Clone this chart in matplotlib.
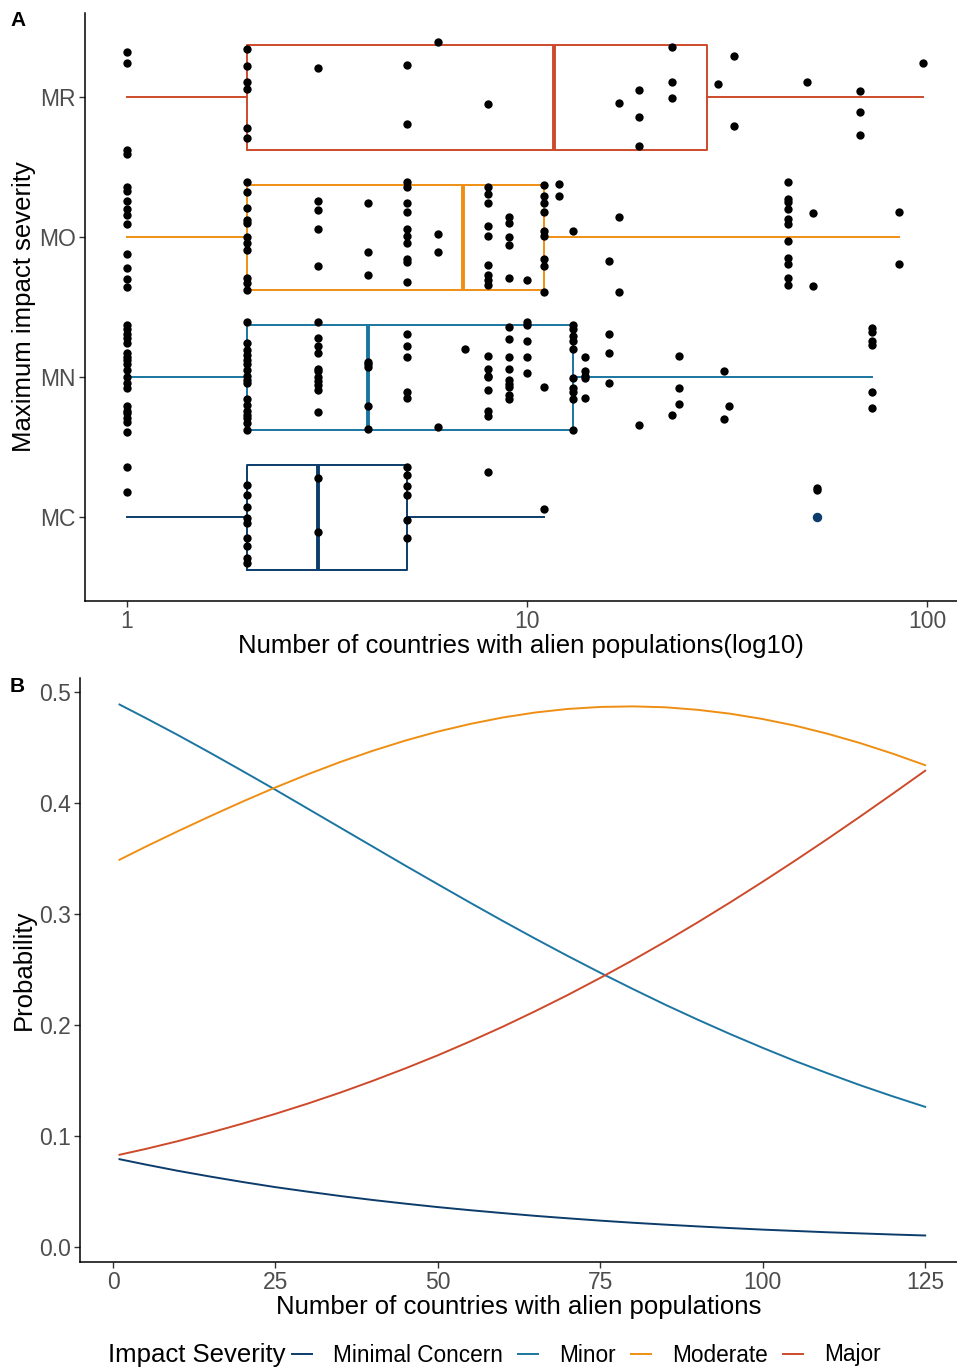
import numpy as np
import matplotlib
matplotlib.use("Agg")
import matplotlib.pyplot as plt
from matplotlib.lines import Line2D

plt.rcParams['font.family'] = ['Liberation Sans', 'DejaVu Sans']

# ---- Panel A data ----
severity = ['MC', 'MN', 'MO', 'MR']
box_colors = ['#0B3C6B', '#1B75A0', '#EE8F14', '#CD4A2B']

# box summary (countries)
whis_lo = [1, 1, 1, 1]
q1 = [2, 2, 2, 2]
median = [3, 4, 6.9, 11.7]
q3 = [5, 13, 11, 28.2]
whis_hi = [11, 73, 85, 98]
outliers = [[53], [], [], []]

# jittered points: country counts and vertical jitter (category units)
mc_x = [1, 1, 2, 2, 2, 2, 2, 2, 2, 2, 2, 3, 3, 5, 5, 5, 5, 5, 5, 8, 11, 53, 53]
mc_dy = [.36, .18, .23, .16, .07, -.01, -.04, -.15, -.21, -.29, -.33, .28, -.11,
         .36, .30, .22, .16, -.02, -.15, .32, .06, .21, .19]

mn_x = ([1] * 19 + [2] * 17 + [3] * 11 + [4] * 5 + [5] * 5 + [6, 7] + [8] * 7 + [9] * 9
        + [10] * 5 + [11] + [13] * 10 + [14] * 5 + [16] * 3 + [19, 23] + [24] * 3
        + [31, 31, 32] + [73] * 6)
mn_dy = [.37, .34, .31, .28, .24, .17, .14, .12, .09, .05, 0, -.04, -.08, -.21, -.24, -.26, -.29, -.32, -.39,
         .39, .24, .19, .16, .12, .09, .05, .01, -.02, -.04, -.16, -.20, -.24, -.27, -.29, -.33, -.38,
         .39, .28, .22, .17, .06, .04, 0, -.03, -.06, -.09, -.25,
         .11, .09, .07, -.21, -.37,
         .31, .22, .14, -.11, -.15,
         -.36, .20,
         .15, .06, .01, 0, -.09, -.24, -.28,
         .36, .27, .14, .06, -.02, -.05, -.07, -.13, -.16,
         .39, .37, .26, .14, .03,
         -.07,
         .37, .34, .29, .26, .20, -.01, -.08, -.11, -.16, -.38,
         .14, .04, .01, -.01, -.15,
         .31, .17, -.04,
         -.34, -.27,
         .15, -.08, -.19,
         .04, -.30, -.21,
         .35, .32, .26, .23, -.11, -.22]

mo_x = ([1] * 10 + [2] * 11 + [3] * 4 + [4] * 3 + [5] * 10 + [6] * 2 + [8] * 9 + [9] * 5
        + [10] + [11] * 9 + [12, 12, 13, 16, 17, 17] + [45] * 11 + [52, 52, 85, 85])
mo_dy = [.36, .33, .26, .20, .16, .09, -.12, -.22, -.30, -.36,
         .39, .32, .21, .12, .10, 0, -.04, -.09, -.29, -.33, -.38,
         .26, .19, .06, -.21,
         .24, -.11, -.27,
         .39, .36, .24, .18, .06, .01, -.04, -.16, -.18, -.32,
         .02, -.11,
         .36, .31, .24, .08, .01, -.20, -.27, -.31, -.34,
         .14, .10, 0, -.06, -.29,
         -.31,
         .37, .29, .24, .18, .04, .01, -.16, -.21, -.39,
         .38, .29, .04, -.17, .14, -.39,
         .39, .27, .25, .20, .13, .09, -.03, -.15, -.19, -.29, -.34,
         .17, -.35, .18, -.19]

mr_x = ([1] * 4 + [2] * 6 + [3, 5, 5, 6, 8, 17] + [19] * 3 + [23] * 3 + [30, 33, 33, 50]
        + [68] * 3 + [98])
mr_dy = [.32, .24, -.38, -.41,
         .34, .22, .11, .06, -.22, -.29,
         .21, .23, -.19, .39, -.05, -.04,
         .05, -.14, -.35,
         .36, .11, -.01,
         .09, .29, -.21, .11,
         .04, -.11, -.27, .24]

points_x = [mc_x, mn_x, mo_x, mr_x]
points_dy = [mc_dy, mn_dy, mo_dy, mr_dy]

# ---- Panel B data (predicted probabilities) ----
countries = [1, 5, 10, 15, 20, 25, 30, 35, 40, 45, 50, 55, 60, 65, 70, 75, 80, 85, 90,
             95, 100, 105, 110, 115, 120, 125]
p_minimal = [.079, .0742, .0685, .0633, .0584, .0538, .0497, .0458, .0422, .0389, .0358, .0330,
             .0304, .0279, .0257, .0236, .0217, .0200, .0184, .0169, .0155, .0143, .0131, .0121,
             .0111, .0102]
p_minor = [.489, .4769, .4614, .4453, .4288, .4121, .3950, .3779, .3608, .3437, .3269, .3102,
           .2938, .2778, .2622, .2471, .2325, .2183, .2048, .1918, .1794, .1675, .1564, .1457,
           .1357, .1262]
p_moderate = [.349, .3607, .3748, .3884, .4016, .4142, .4261, .4372, .4473, .4565, .4646, .4715,
              .4773, .4818, .4850, .4868, .4873, .4865, .4842, .4807, .4759, .4699, .4626, .4542,
              .4447, .4343]
p_major = [.083, .0882, .0953, .1030, .1112, .1199, .1292, .1391, .1497, .1609, .1727, .1853,
           .1985, .2125, .2271, .2425, .2585, .2752, .2926, .3106, .3292, .3483, .3679, .3880,
           .4085, .4293]
legend_labels = ['Minimal Concern', 'Minor', 'Moderate', 'Major']

W, H = 957, 1369
fig = plt.figure(figsize=(W / 100, H / 100), dpi=100)

tick_grey = '#4D4D4D'

# ---------------- Panel A ----------------
axA = fig.add_axes([85 / W, 1 - 601 / H, (957 - 85) / W, (601 - 13) / H])
for i in range(4):
    c = box_colors[i]
    st = dict(med=median[i], q1=q1[i], q3=q3[i], whislo=whis_lo[i],
              whishi=whis_hi[i], fliers=outliers[i])
    axA.bxp([st], positions=[i], widths=0.75, vert=False, showcaps=False,
            boxprops=dict(color=c, lw=1.4),
            whiskerprops=dict(color=c, lw=1.4),
            medianprops=dict(color=c, lw=2.8),
            flierprops=dict(marker='o', markerfacecolor=c, markeredgecolor=c, markersize=5.8),
            manage_ticks=False)
for i in range(4):
    xs = np.array(points_x[i], dtype=float)
    ys = i + np.array(points_dy[i])
    axA.scatter(xs, ys, s=36, color='black', zorder=5, linewidths=0)

axA.set_xscale('log')
axA.set_xlim(10 ** -0.105, 10 ** 2.075)
axA.set_ylim(-0.6, 3.6)
axA.set_yticks(range(4))
axA.set_yticklabels(severity)
axA.set_xticks([1, 10, 100])
axA.set_xticklabels(['1', '10', '100'])
axA.minorticks_off()
axA.set_xlabel('Number of countries with alien populations(log10)', fontsize=18.5, labelpad=1)
axA.set_ylabel('Maximum impact severity', fontsize=18.5, labelpad=2)

# ---------------- Panel B ----------------
axB = fig.add_axes([80 / W, 1 - 1262 / H, (957 - 80) / W, (1262 - 678) / H])
for vals, c, lab in zip([p_minimal, p_minor, p_moderate, p_major], box_colors, legend_labels):
    axB.plot(countries, vals, color=c, lw=1.4, label=lab)
axB.set_xlim(-5.08, 129.9)
axB.set_ylim(-0.0137, 0.5129)
axB.set_xticks([0, 25, 50, 75, 100, 125])
axB.set_yticks([0.0, 0.1, 0.2, 0.3, 0.4, 0.5])
axB.set_yticklabels(['0.0', '0.1', '0.2', '0.3', '0.4', '0.5'])
axB.set_xlabel('Number of countries with alien populations', fontsize=18.5, labelpad=1)
axB.set_ylabel('Probability', fontsize=18.5, labelpad=2)

for ax in (axA, axB):
    for side in ('top', 'right'):
        ax.spines[side].set_visible(False)
    for side in ('left', 'bottom'):
        ax.spines[side].set_linewidth(1.1)
        ax.spines[side].set_color('black')
    ax.tick_params(axis='both', labelsize=16.5, labelcolor=tick_grey, color='#333333',
                   length=4, width=1, pad=2.5)

fig.text(10 / W, 1 - 20 / H, 'A', fontsize=15, fontweight='bold', va='center')
fig.text(10 / W, 1 - 686 / H, 'B', fontsize=15, fontweight='bold', va='center')

# legend at the bottom, title on the left
fig.text(108 / W, 1 - 1355 / H, 'Impact Severity', fontsize=18.5, va='center')
handles = [Line2D([], [], color=c, lw=1.4) for c in box_colors]
fig.legend(handles, legend_labels, loc='center left', bbox_to_anchor=(292 / W, 1 - 1355 / H),
           ncol=4, frameon=False, fontsize=16.3, handlelength=0.88, handletextpad=0.95,
           columnspacing=0.65, borderaxespad=0, borderpad=0)

fig.savefig('out.png', dpi=100)
